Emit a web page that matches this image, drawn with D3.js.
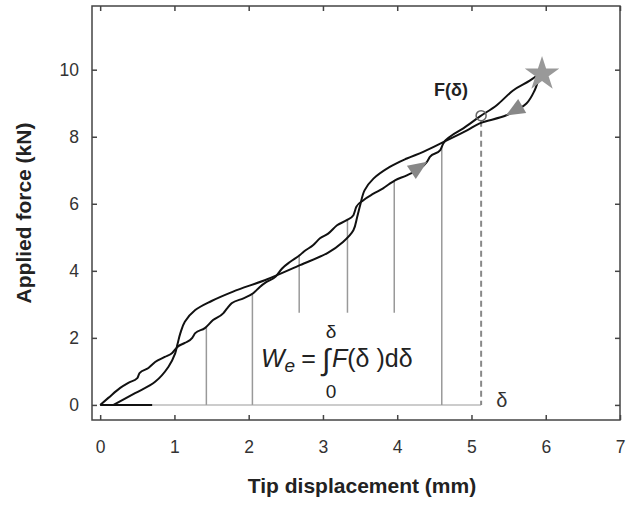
<!DOCTYPE html>
<html>
<head>
<meta charset="utf-8">
<script src="https://cdn.jsdelivr.net/npm/d3@7"></script>
<style>
  body { margin: 0; background: #fff; }
  text { font-family: "Liberation Sans", Arial, sans-serif; }
</style>
</head>
<body>
<script>
// chart values
var xTicks = [0, 1, 2, 3, 4, 5, 6, 7];
var yTicks = [0, 2, 4, 6, 8, 10];

// loading curve (wavy)
var loadX = [0, 0.11, 0.27, 0.38, 0.5, 0.53, 0.65, 0.74, 0.87, 0.97, 1.04, 1.14, 1.24, 1.28, 1.41, 1.52,
  1.66, 1.71, 1.77, 1.93, 2.06, 2.15, 2.24, 2.36, 2.45, 2.56, 2.69, 2.74, 2.87, 2.96, 3.07, 3.19,
  3.32, 3.41, 3.45, 3.54, 3.68, 3.81, 3.9, 3.97, 4.13, 4.4, 4.44, 4.58, 4.62, 4.71, 4.89, 5.11,
  5.34, 5.56, 5.79, 5.95];
var loadF = [0, 0.21, 0.51, 0.66, 0.8, 0.95, 1.1, 1.28, 1.43, 1.55, 1.73, 1.85, 2.0, 2.14, 2.29, 2.53,
  2.74, 2.88, 3.03, 3.18, 3.33, 3.52, 3.67, 3.82, 4.07, 4.27, 4.47, 4.57, 4.77, 4.97, 5.11, 5.36,
  5.51, 5.66, 5.91, 6.1, 6.3, 6.46, 6.6, 6.7, 6.85, 7.25, 7.4, 7.6, 7.8, 8.0, 8.25, 8.6,
  8.94, 9.38, 9.68, 9.93];

// unloading curve (smooth)
var unloadX = [0.18, 0.47, 0.74, 0.92, 1.01, 1.04, 1.08, 1.14, 1.28, 1.5, 1.79, 2.25, 2.69, 3.06, 3.27,
  3.41, 3.46, 3.5, 3.56, 3.68, 3.9, 4.13, 4.35, 4.62, 4.94, 5.11, 5.47, 5.74, 5.85, 5.9, 5.95];
var unloadF = [0, 0.35, 0.69, 1.14, 1.54, 1.8, 2.14, 2.48, 2.83, 3.1, 3.38, 3.75, 4.17, 4.53, 4.86,
  5.21, 5.6, 5.95, 6.4, 6.75, 7.1, 7.35, 7.55, 7.84, 8.19, 8.4, 8.64, 8.99, 9.38, 9.68, 9.93];

// integration slices
var sliceX = [1.43, 2.05, 2.68, 3.33, 3.96, 4.6];
var sliceBase = [0, 0, 2.75, 2.75, 2.75, 0];
var delta = 5.13;
var blackBaseEnd = 0.7;
var arrowX = [4.28, 5.59];

var width = 633, height = 508;
var svg = d3.select("body").append("svg")
  .attr("width", width)
  .attr("height", height);

var x = d3.scaleLinear().domain([-0.11, 7]).range([92, 620]);
var y = d3.scaleLinear().domain([-0.45, 11.9]).range([420, 6]);

function interp(xs, fs, v) {
  for (var i = 1; i < xs.length; i++) {
    if (v <= xs[i]) {
      var t = (v - xs[i - 1]) / (xs[i] - xs[i - 1]);
      return fs[i - 1] + t * (fs[i] - fs[i - 1]);
    }
  }
  return fs[fs.length - 1];
}

var wavyLine = d3.line()
  .x(function(d) { return x(d[0]); })
  .y(function(d) { return y(d[1]); })
  .curve(d3.curveMonotoneX);

var smoothLine = d3.line()
  .x(function(d) { return x(d[0]); })
  .y(function(d) { return y(d[1]); })
  .curve(d3.curveCatmullRom.alpha(0.5));

// baseline
svg.append("line")
  .attr("x1", x(0)).attr("x2", x(delta))
  .attr("y1", y(0)).attr("y2", y(0))
  .style("stroke", "#bbb")
  .style("stroke-width", 1.5);

svg.append("line")
  .attr("x1", x(0)).attr("x2", x(blackBaseEnd))
  .attr("y1", y(0)).attr("y2", y(0))
  .style("stroke", "#111")
  .style("stroke-width", 2);

// slices
svg.selectAll(".slice")
  .data(sliceX)
  .enter().append("line")
    .attr("class", "slice")
    .attr("x1", function(d) { return x(d); })
    .attr("x2", function(d) { return x(d); })
    .attr("y1", function(d, i) { return y(sliceBase[i]); })
    .attr("y2", function(d) { return y(interp(loadX, loadF, d)); })
    .style("stroke", "#999")
    .style("stroke-width", 1.5);

// dashed delta line
var fDelta = interp(loadX, loadF, delta);
svg.append("line")
  .attr("x1", x(delta)).attr("x2", x(delta))
  .attr("y1", y(fDelta) + 5).attr("y2", y(0))
  .style("stroke", "#888")
  .style("stroke-width", 2)
  .style("stroke-dasharray", "6,4");

// curves
svg.append("path")
  .datum(d3.zip(loadX, loadF))
  .attr("d", wavyLine)
  .style("fill", "none")
  .style("stroke", "#111")
  .style("stroke-width", 2);

svg.append("path")
  .datum(d3.zip(unloadX, unloadF))
  .attr("d", smoothLine)
  .style("fill", "none")
  .style("stroke", "#111")
  .style("stroke-width", 2);

svg.append("circle")
  .attr("cx", x(delta))
  .attr("cy", y(fDelta))
  .attr("r", 5)
  .style("fill", "none")
  .style("stroke", "#666")
  .style("stroke-width", 1.5);

// arrows
function arrowAngle(xs, fs, v, dir) {
  var dx = x(v + 0.05) - x(v - 0.05);
  var dy = y(interp(xs, fs, v + 0.05)) - y(interp(xs, fs, v - 0.05));
  var a = Math.atan2(dy, dx) * 180 / Math.PI;
  return dir > 0 ? a : a + 180;
}
var arrowData = [
  { v: arrowX[0], xs: loadX, fs: loadF, dir: 1 },
  { v: arrowX[1], xs: unloadX, fs: unloadF, dir: -1 }
];
svg.selectAll(".arrow")
  .data(arrowData)
  .enter().append("path")
    .attr("class", "arrow")
    .attr("d", "M11,0 L-8,-8 L-8,8 Z")
    .attr("transform", function(d) {
      return "translate(" + x(d.v) + "," + y(interp(d.xs, d.fs, d.v)) + ") rotate(" + arrowAngle(d.xs, d.fs, d.v, d.dir) + ")";
    })
    .style("fill", "#888");

// star at the peak
svg.append("path")
  .attr("d", d3.symbol().type(d3.symbolStar).size(370))
  .attr("transform", "translate(" + x(loadX[loadX.length - 1]) + "," + (y(loadF[loadF.length - 1]) + 2) + ")")
  .style("fill", "#999");

// frame and axes
svg.append("rect")
  .attr("x", 92).attr("y", 6)
  .attr("width", 528).attr("height", 414)
  .style("fill", "none")
  .style("stroke", "#444")
  .style("stroke-width", 1.5);

function tickAxis(axis, transform, labels) {
  var g = svg.append("g").attr("transform", transform)
    .call(axis.tickSizeInner(-5).tickSizeOuter(0));
  g.select(".domain").remove();
  g.selectAll(".tick line").style("stroke", "#444").style("stroke-width", 1.5);
  g.selectAll(".tick text")
    .style("font-family", "Liberation Sans, Arial, sans-serif")
    .style("font-size", "17.5px")
    .style("fill", "#333");
  if (!labels) g.selectAll(".tick text").remove();
  return g;
}

tickAxis(d3.axisBottom(x).tickValues(xTicks).tickFormat(d3.format("d")).tickPadding(21), "translate(0,420)", true);
tickAxis(d3.axisTop(x).tickValues(xTicks), "translate(0,6)", false);
tickAxis(d3.axisLeft(y).tickValues(yTicks).tickFormat(d3.format("d")).tickPadding(13), "translate(92,0)", true);
tickAxis(d3.axisRight(y).tickValues(yTicks), "translate(620,0)", false);

svg.append("text")
  .attr("x", 362).attr("y", 493)
  .attr("text-anchor", "middle")
  .style("font-size", "21px")
  .style("font-weight", "bold")
  .style("fill", "#222")
  .text("Tip displacement (mm)");

svg.append("text")
  .attr("transform", "translate(31,213) rotate(-90)")
  .attr("text-anchor", "middle")
  .style("font-size", "21px")
  .style("font-weight", "bold")
  .style("fill", "#222")
  .text("Applied force (kN)");

// annotations
svg.append("text")
  .attr("x", 434).attr("y", 96)
  .style("font-size", "18px")
  .style("font-weight", "bold")
  .style("fill", "#222")
  .text("F(δ)");

svg.append("text")
  .attr("x", x(delta) + 15).attr("y", y(0) + 2)
  .style("font-size", "20px")
  .style("fill", "#333")
  .text("δ");

var formula = svg.append("text")
  .attr("x", 261).attr("y", 367)
  .style("font-size", "25px")
  .style("fill", "#222");
formula.append("tspan").style("font-style", "italic").text("W");
formula.append("tspan").style("font-style", "italic").style("font-size", "19px").attr("dy", 5).text("e");
formula.append("tspan").attr("dy", -5).attr("dx", 6).text("=");

svg.append("text")
  .attr("x", 322).attr("y", 370)
  .style("font-size", "30px")
  .style("font-weight", "100")
  .style("fill", "#222")
  .text("∫");

var fx = svg.append("text")
  .attr("x", 332).attr("y", 367)
  .style("font-size", "25px")
  .style("fill", "#222");
fx.append("tspan").style("font-style", "italic").text("F");
fx.append("tspan").text("(δ )dδ");

svg.append("text")
  .attr("x", 331).attr("y", 338)
  .attr("text-anchor", "middle")
  .style("font-size", "19px")
  .style("fill", "#222")
  .text("δ");

svg.append("text")
  .attr("x", 331).attr("y", 398)
  .attr("text-anchor", "middle")
  .style("font-size", "19px")
  .style("fill", "#222")
  .text("0");
</script>
</body>
</html>
